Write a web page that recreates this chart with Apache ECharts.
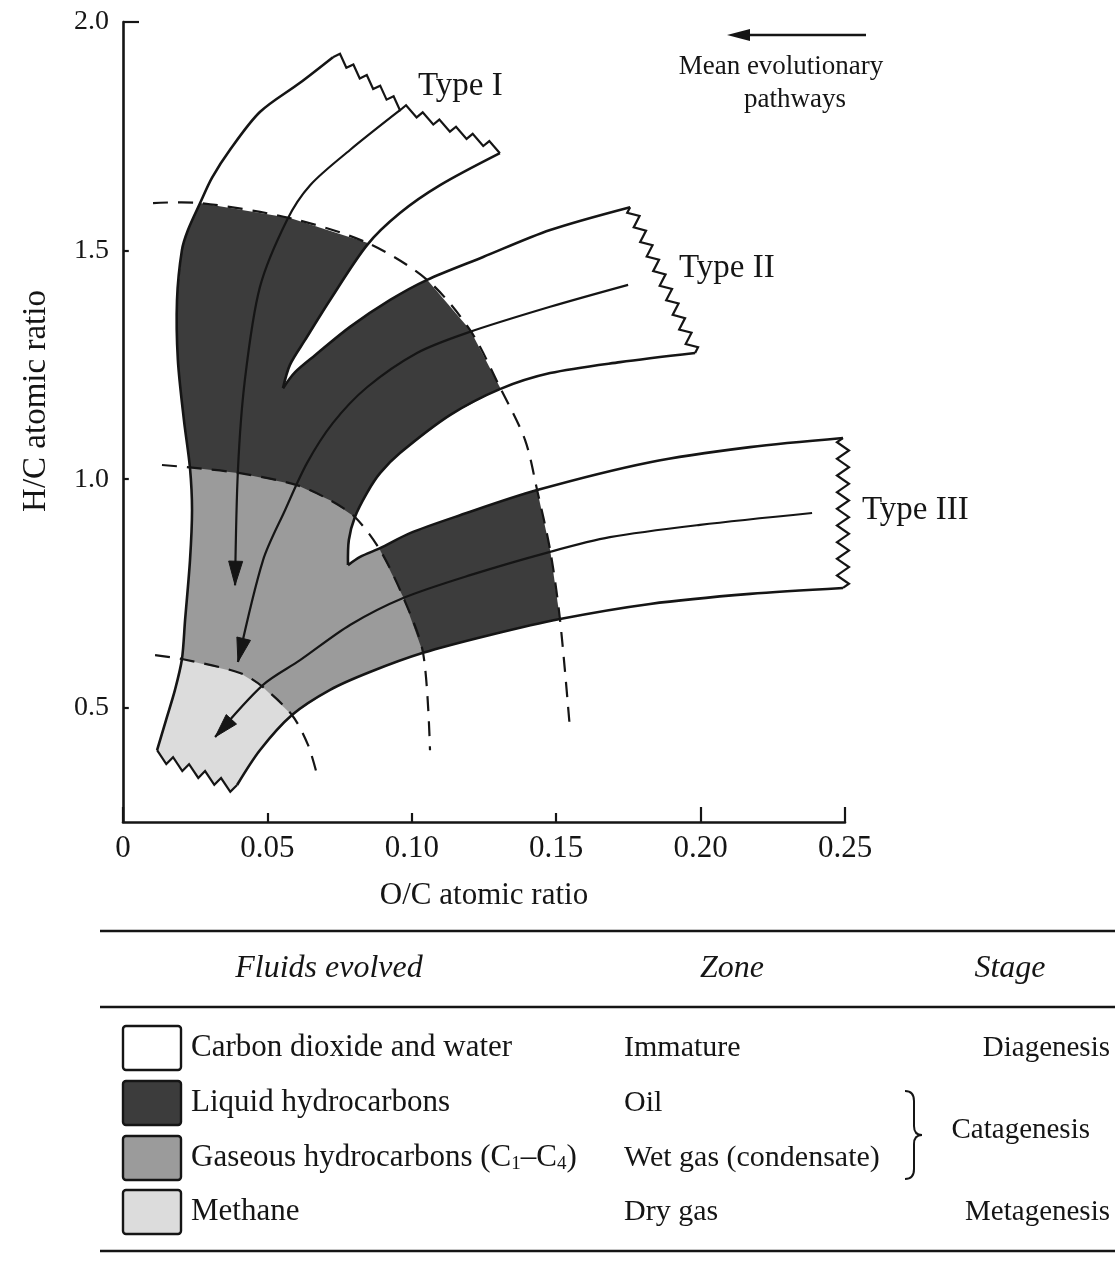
<!DOCTYPE html>
<html>
<head>
<meta charset="utf-8">
<title>Van Krevelen diagram</title>
<script src="https://cdn.jsdelivr.net/npm/echarts@6.0.0/dist/echarts.min.js"></script>
<style>
  html, body { margin: 0; padding: 0; background: #fff; }
  #main { width: 1115px; height: 1262px; }
</style>
</head>
<body>
<div id="main"></div>
<script>
// all points are [O/C atomic ratio, H/C atomic ratio]

// outer edge, from the Type I break down to the bottom break
const leftEdge = [[0.0727,1.923],[0.0613,1.867],[0.0474,1.803],[0.0370,1.720],[0.0308,1.659],[0.0267,1.604],[0.0225,1.545],[0.0204,1.501],[0.0187,1.392],[0.0190,1.261],[0.0211,1.129],[0.0232,1.024],[0.0239,0.932],[0.0232,0.823],[0.0215,0.692],[0.0204,0.606],[0.0180,0.539],[0.0149,0.473],[0.0118,0.407]];
const typeIIILower = [[0.0395,0.331],[0.0474,0.407],[0.0585,0.484],[0.0717,0.539],[0.0855,0.578],[0.1039,0.620],[0.1271,0.659],[0.1513,0.694],[0.1825,0.727],[0.2171,0.749],[0.2493,0.762]];
const typeIIIUpper = [[0.2493,1.090],[0.2171,1.070],[0.1825,1.037],[0.1434,0.976],[0.1167,0.921],[0.0994,0.882],[0.0890,0.849],[0.0821,0.830],[0.0779,0.812]];
const typeIILower = [[0.0779,0.812],[0.0782,0.867],[0.0803,0.917],[0.0845,0.970],[0.0890,1.013],[0.0959,1.057],[0.1132,1.140],[0.1305,1.197],[0.1479,1.232],[0.1721,1.256],[0.1981,1.276]];
const typeIIUpper = [[0.1756,1.595],[0.1479,1.545],[0.1247,1.486],[0.1053,1.436],[0.0925,1.392],[0.0786,1.333],[0.0665,1.271],[0.0596,1.234],[0.0554,1.199]];
const typeILower = [[0.0554,1.199],[0.0578,1.250],[0.0630,1.304],[0.0717,1.392],[0.0845,1.512],[0.0959,1.582],[0.1098,1.643],[0.1305,1.713]];

// mean evolutionary pathways
const pathI = [[0.0959,1.807],[0.0786,1.720],[0.0648,1.643],[0.0568,1.567],[0.0474,1.420],[0.0422,1.217],[0.0398,1.020],[0.0388,0.768]];
const pathII = [[0.1749,1.425],[0.1479,1.377],[0.1191,1.320],[0.1018,1.276],[0.0845,1.201],[0.0727,1.123],[0.0637,1.035],[0.0561,0.932],[0.0485,0.823],[0.0398,0.600]];
const pathIII = [[0.2386,0.926],[0.1998,0.900],[0.1686,0.873],[0.1479,0.841],[0.1202,0.790],[0.0970,0.740],[0.0786,0.681],[0.0613,0.604],[0.0485,0.550],[0.0319,0.436]];

// zone limits (dashed)
const oilLimit = [[0.0104,1.604],[0.0267,1.604],[0.0578,1.571],[0.0845,1.517],[0.1053,1.436],[0.1202,1.326],[0.1305,1.201],[0.1392,1.086],[0.1434,0.976],[0.1479,0.845],[0.1513,0.694],[0.1548,0.451]];
const wetGasLimit = [[0.0135,1.031],[0.0256,1.024],[0.0405,1.013],[0.0602,0.987],[0.0717,0.954],[0.0803,0.917],[0.0890,0.845],[0.0970,0.742],[0.1039,0.620],[0.1063,0.407]];
const dryGasLimit = [[0.0111,0.615],[0.0208,0.606],[0.0405,0.576],[0.0485,0.545],[0.0585,0.484],[0.0641,0.418],[0.0675,0.346]];

const xTicks = [0, 0.05, 0.10, 0.15, 0.20, 0.25];
const yTicks = [0.5, 1.0, 1.5, 2.0];

const fluids = ['Carbon dioxide and water', 'Liquid hydrocarbons', 'Gaseous hydrocarbons (C{sub|1}–C{sub|4})', 'Methane'];
const zones = ['Immature', 'Oil', 'Wet gas (condensate)', 'Dry gas'];
const stages = ['Diagenesis', 'Catagenesis', 'Metagenesis'];

const FONT = 'Liberation Serif';
const INK = '#151515';
const zoneColors = ['#ffffff', '#3c3c3c', '#9b9b9b', '#dcdcdc'];
// area that the zone fills may cover before masking
const FILL_BOX = { x0: 0.002, x1: 0.16, y0: 0.27, y1: 1.62 };

const chart = echarts.init(document.getElementById('main'));

function toPx(api, pts) {
    return pts.map((p) => api.coord(p));
}

// break symbol between two pixel points
function zigzag(a, b, n, amp, saw) {
    const dx = b[0] - a[0], dy = b[1] - a[1];
    const len = Math.hypot(dx, dy);
    const nx = -dy / len, ny = dx / len;
    const pts = [];
    for (let i = 0; i < n; i++) {
        if (saw) {
            pts.push([a[0] + dx * i / n, a[1] + dy * i / n]);
            const t = (i + 0.8) / n;
            pts.push([a[0] + dx * t + nx * amp, a[1] + dy * t + ny * amp]);
        } else {
            const t = (i + 0.5) / n;
            const s = i % 2 ? -1 : 1;
            pts.push([a[0] + dx * t + nx * amp * s, a[1] + dy * t + ny * amp * s]);
        }
    }
    return pts;
}

function outlinePx(api) {
    const L = toPx(api, leftEdge);
    const l3 = toPx(api, typeIIILower);
    const u3 = toPx(api, typeIIIUpper);
    const l2 = toPx(api, typeIILower);
    const u2 = toPx(api, typeIIUpper);
    const l1 = toPx(api, typeILower);
    const mid = api.coord(pathI[0]);
    return {
        L, l3, u3, l2, u2, l1,
        zBottom: zigzag(L[L.length - 1], l3[0], 5, 9, true),
        zIII: zigzag(l3[l3.length - 1], u3[0], 18, 6, false),
        zII: zigzag(l2[l2.length - 1], u2[0], 20, 5, false),
        // Type I break bends where its pathway starts
        zI: zigzag(l1[l1.length - 1], mid, 6, 7, true).concat(zigzag(mid, L[0], 5, 7, true)),
    };
}

function closedOutline(o) {
    return [].concat(o.L, o.zBottom, o.l3, o.zIII, o.u3, o.l2, o.zII, o.u2, o.l1, o.zI);
}

function signedArea(pts) {
    let s = 0;
    for (let i = 0; i < pts.length; i++) {
        const p = pts[i], q = pts[(i + 1) % pts.length];
        s += p[0] * q[1] - q[0] * p[1];
    }
    return s;
}

function pathStr(pts) {
    return 'M' + pts.map((p) => p[0].toFixed(1) + ' ' + p[1].toFixed(1)).join(' L') + ' Z';
}

function zonePolygon(api, limit) {
    const first = limit[0], last = limit[limit.length - 1];
    const wall = FILL_BOX.x0 + 0.004, floor = FILL_BOX.y0 + 0.02;
    const pts = limit.concat([[last[0], floor], [wall, floor], [wall, first[1]]]);
    return toPx(api, pts);
}

function arrowHead(tip, from, len, half) {
    const dx = tip[0] - from[0], dy = tip[1] - from[1];
    const l = Math.hypot(dx, dy);
    const ux = dx / l, uy = dy / l;
    const bx = tip[0] - ux * len, by = tip[1] - uy * len;
    return [tip, [bx - uy * half, by + ux * half], [bx + uy * half, by - ux * half]];
}

// zone fills, layered from the oil limit inwards
function renderFills(params, api) {
    return {
        type: 'group',
        children: [
            { type: 'polygon', shape: { points: zonePolygon(api, oilLimit) }, style: { fill: zoneColors[1] } },
            { type: 'polygon', shape: { points: zonePolygon(api, wetGasLimit) }, style: { fill: zoneColors[2] } },
            { type: 'polygon', shape: { points: zonePolygon(api, dryGasLimit) }, style: { fill: zoneColors[3] } },
        ],
    };
}

// white mask outside the kerogen bands
function renderMask(params, api) {
    const box = toPx(api, [[FILL_BOX.x0, FILL_BOX.y1], [FILL_BOX.x1, FILL_BOX.y1], [FILL_BOX.x1, FILL_BOX.y0], [FILL_BOX.x0, FILL_BOX.y0]]);
    let hole = closedOutline(outlinePx(api));
    if (signedArea(hole) * signedArea(box) > 0) hole = hole.slice().reverse();
    return {
        type: 'path',
        shape: { pathData: pathStr(box) + ' ' + pathStr(hole) },
        style: { fill: '#ffffff', stroke: null },
    };
}

function renderLines(params, api) {
    const o = outlinePx(api);
    const children = [];
    const curve = (pts, w) => ({ type: 'polyline', shape: { points: pts, smooth: 0.3 }, style: { fill: 'none', stroke: INK, lineWidth: w } });
    const jag = (pts) => ({ type: 'polyline', shape: { points: pts }, style: { fill: 'none', stroke: INK, lineWidth: 2.2, lineJoin: 'miter' } });
    [o.L, o.l3, o.u3, o.l2, o.u2, o.l1].forEach((c) => children.push(curve(c, 2.6)));
    children.push(jag([o.L[o.L.length - 1]].concat(o.zBottom, [o.l3[0]])));
    children.push(jag([o.l3[o.l3.length - 1]].concat(o.zIII, [o.u3[0]])));
    children.push(jag([o.l2[o.l2.length - 1]].concat(o.zII, [o.u2[0]])));
    children.push(jag([o.l1[o.l1.length - 1]].concat(o.zI, [o.L[0]])));

    [oilLimit, wetGasLimit, dryGasLimit].forEach((lim) => {
        children.push({
            type: 'polyline',
            shape: { points: toPx(api, lim), smooth: 0.3 },
            style: { fill: 'none', stroke: INK, lineWidth: 2.2, lineDash: [15, 10] },
        });
    });

    [pathI, pathII, pathIII].forEach((p) => {
        const pts = toPx(api, p);
        children.push(curve(pts, 2.2));
        children.push({
            type: 'polygon',
            shape: { points: arrowHead(pts[pts.length - 1], pts[pts.length - 2], 24, 7) },
            style: { fill: INK, stroke: INK, lineWidth: 1 },
        });
    });
    return { type: 'group', children };
}

const nameText = { color: INK, fontFamily: FONT, fontSize: 31 };

// table below the plot
const rowY = [1048, 1103, 1158, 1212];
const legend = [];
[931, 1007, 1251].forEach((y) => legend.push({
    type: 'line', shape: { x1: 100, y1: y, x2: 1115, y2: y }, style: { stroke: INK, lineWidth: 2.4 },
}));
[['Fluids evolved', 329], ['Zone', 732], ['Stage', 1010]].forEach(([t, x]) => legend.push({
    type: 'text', x: x, y: 969,
    style: { text: t, fontFamily: FONT, fontSize: 32, fontStyle: 'italic', fill: INK, align: 'center', verticalAlign: 'middle' },
}));
fluids.forEach((t, i) => {
    legend.push({
        type: 'rect', shape: { x: 123, y: rowY[i] - 22, width: 58, height: 44, r: 3 },
        style: { fill: zoneColors[i], stroke: INK, lineWidth: 2.4 },
    });
    legend.push({
        type: 'text', x: 191, y: rowY[i],
        style: {
            text: t, fontFamily: FONT, fontSize: 31, fill: INK, align: 'left', verticalAlign: 'middle',
            rich: { sub: { fontFamily: FONT, fontSize: 19, fill: INK, padding: [13, 0, 0, 0] } },
        },
    });
    legend.push({
        type: 'text', x: 624, y: rowY[i],
        style: { text: zones[i], fontFamily: FONT, fontSize: 30, fill: INK, align: 'left', verticalAlign: 'middle' },
    });
});
[[stages[0], 1110, rowY[0]], [stages[1], 1090, 1130], [stages[2], 1110, rowY[3]]].forEach(([t, x, y]) => legend.push({
    type: 'text', x: x, y: y,
    style: { text: t, fontFamily: FONT, fontSize: 29, fill: INK, align: 'right', verticalAlign: 'middle' },
}));
// brace grouping oil and wet gas
[
    [905, 1091, 914, 1101, 914, 1091],
    [914, 1126, 922, 1135, 914, 1135],
    [922, 1135, 914, 1144, 914, 1135],
    [914, 1169, 905, 1179, 914, 1179],
].forEach(([x1, y1, x2, y2, cx, cy]) => legend.push({
    type: 'bezierCurve', shape: { x1, y1, x2, y2, cpx1: cx, cpy1: cy }, style: { stroke: INK, lineWidth: 2, fill: 'none' },
}));
[[1101, 1126], [1144, 1169]].forEach(([a, b]) => legend.push({
    type: 'line', shape: { x1: 914, y1: a, x2: 914, y2: b }, style: { stroke: INK, lineWidth: 2 },
}));

// labels inside the plot
const notes = [
    { type: 'text', x: 418, y: 86, style: { text: 'Type I', fontFamily: FONT, fontSize: 33, fill: INK, verticalAlign: 'middle' } },
    { type: 'text', x: 679, y: 268, style: { text: 'Type II', fontFamily: FONT, fontSize: 33, fill: INK, verticalAlign: 'middle' } },
    { type: 'text', x: 862, y: 510, style: { text: 'Type III', fontFamily: FONT, fontSize: 33, fill: INK, verticalAlign: 'middle' } },
    { type: 'text', x: 781, y: 67, style: { text: 'Mean evolutionary', fontFamily: FONT, fontSize: 27, fill: INK, align: 'center', verticalAlign: 'middle' } },
    { type: 'text', x: 795, y: 100, style: { text: 'pathways', fontFamily: FONT, fontSize: 27, fill: INK, align: 'center', verticalAlign: 'middle' } },
    { type: 'line', shape: { x1: 745, y1: 35, x2: 866, y2: 35 }, style: { stroke: INK, lineWidth: 2.4 } },
    { type: 'polygon', shape: { points: [[727, 35], [750, 29], [750, 41]] }, style: { fill: INK } },
];

const option = {
    animation: false,
    backgroundColor: '#ffffff',
    grid: { left: 123, right: 270, top: 22, bottom: 440 },
    xAxis: {
        type: 'value',
        min: xTicks[0],
        max: xTicks[xTicks.length - 1],
        interval: 0.05,
        name: 'O/C atomic ratio',
        nameLocation: 'middle',
        nameGap: 58,
        nameTextStyle: nameText,
        axisLine: { show: true, onZero: false, lineStyle: { color: INK, width: 2.6 } },
        axisTick: { show: true, inside: true, length: 15, lineStyle: { color: INK, width: 2.2 } },
        axisLabel: { color: INK, fontFamily: FONT, fontSize: 31, margin: 11, formatter: (v) => (v === 0 ? '0' : v.toFixed(2)) },
        splitLine: { show: false },
    },
    yAxis: {
        type: 'value',
        min: 0.25,
        max: yTicks[yTicks.length - 1],
        splitNumber: 4,
        name: 'H/C atomic ratio',
        nameLocation: 'middle',
        nameRotate: 90,
        nameGap: 70,
        nameTextStyle: { ...nameText, fontSize: 33, padding: [0, 0, 0, 42] },
        axisLine: { show: true, onZero: false, lineStyle: { color: INK, width: 2.6 } },
        axisTick: { show: true, inside: true, length: 16, lineStyle: { color: INK, width: 2.2 } },
        axisLabel: {
            color: INK, fontFamily: FONT, fontSize: 28, margin: 14, showMinLabel: false,
            formatter: (v) => (yTicks.indexOf(+v.toFixed(2)) >= 0 ? v.toFixed(1) : ''),
        },
        splitLine: { show: false },
    },
    series: [
        { type: 'custom', z: 1, silent: true, data: [[0, 1]], renderItem: renderFills },
        { type: 'custom', z: 2, silent: true, data: [[0, 1]], renderItem: renderMask },
        { type: 'custom', z: 3, silent: true, data: [[0, 1]], renderItem: renderLines },
    ],
    graphic: { elements: legend.concat(notes) },
};

chart.setOption(option);
</script>
</body>
</html>
